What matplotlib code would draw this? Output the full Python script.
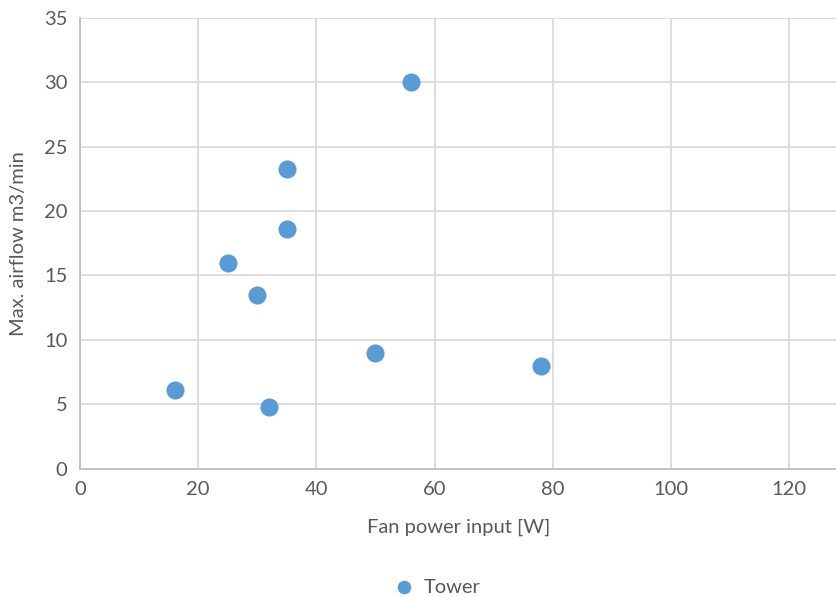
import matplotlib
matplotlib.use("Agg")
import matplotlib.pyplot as plt

fan_power = [16, 25, 30, 32, 35, 35, 50, 56, 78]
airflow = [6.1, 16.0, 13.5, 4.8, 23.3, 18.6, 9.0, 30.0, 8.0]
series_name = "Tower"
x_ticks = [0, 20, 40, 60, 80, 100, 120]
y_ticks = [0, 5, 10, 15, 20, 25, 30, 35]

plt.rcParams['font.family'] = ['Lato', 'DejaVu Sans']

fig = plt.figure(figsize=(8.37, 5.97), dpi=100)
ax = fig.add_axes([80/837, (597-468.5)/597, 1 - 80/837, 450.5/597])

ax.scatter(fan_power, airflow, s=170, color="#5B9BD5", zorder=3, label=series_name, linewidths=0)

ax.set_xlim(0, 128.1)
ax.set_ylim(0, 35)
ax.set_xticks(x_ticks)
ax.set_yticks(y_ticks)
ax.grid(True, color="#d9d9d9", linewidth=1.3)
ax.set_axisbelow(True)
for s in ["top", "right"]:
    ax.spines[s].set_visible(False)
for s in ["left", "bottom"]:
    ax.spines[s].set_color("#bfbfbf")
    ax.spines[s].set_linewidth(1.3)
ax.tick_params(length=0, labelsize=14.5, colors="#595959", pad=9)
ax.set_xlabel("Fan power input [W]", fontsize=14.5, color="#595959", labelpad=15)
ax.set_ylabel("Max. airflow m3/min", fontsize=14.5, color="#595959", labelpad=12)

fig.legend(loc="center", bbox_to_anchor=(432/837, 1 - 587/597), frameon=False,
           fontsize=14.5, labelcolor="#595959", handletextpad=0.0, markerscale=0.75)

fig.savefig("out.png", dpi=100)
